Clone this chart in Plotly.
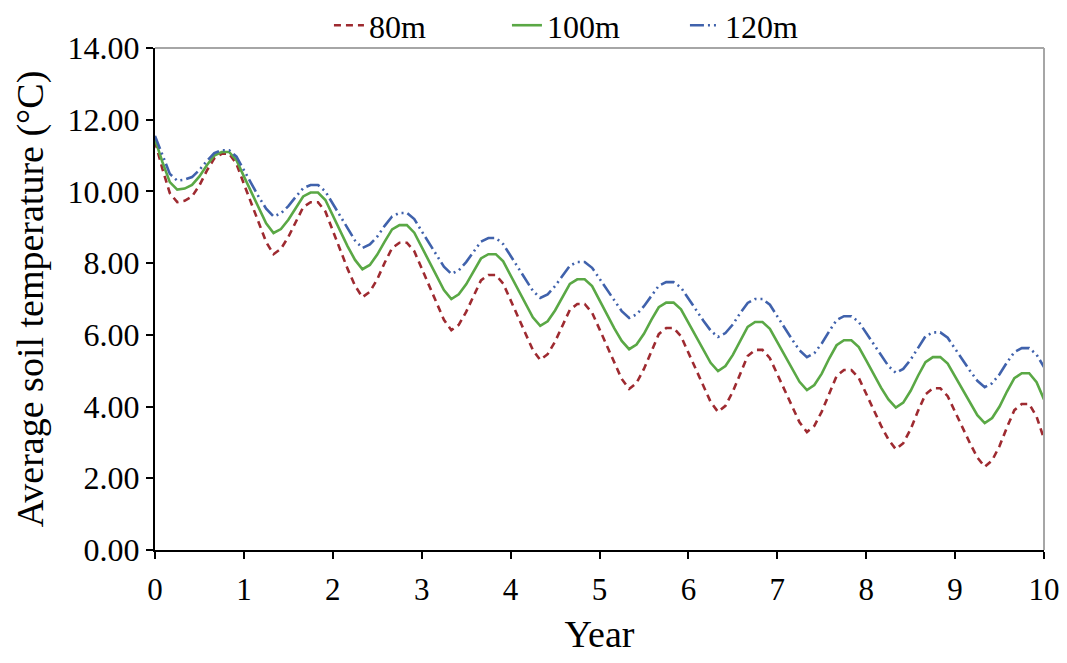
import plotly.graph_objects as go

# Time axis: monthly samples over 10 years
year = [k / 12 for k in range(121)]

temp_80m = [
    11.40, 10.63, 9.95, 9.70, 9.74, 9.86, 10.17, 10.58, 10.92, 11.05, 11.05, 10.77,
    10.21, 9.65, 9.09, 8.59, 8.25, 8.40, 8.73, 9.16, 9.56, 9.70, 9.70, 9.44,
    8.90, 8.37, 7.84, 7.37, 7.05, 7.20, 7.55, 8.01, 8.42, 8.57, 8.57, 8.33,
    7.84, 7.35, 6.86, 6.42, 6.13, 6.28, 6.64, 7.10, 7.52, 7.67, 7.67, 7.43,
    6.96, 6.48, 6.01, 5.58, 5.30, 5.46, 5.81, 6.28, 6.70, 6.86, 6.86, 6.62,
    6.15, 5.67, 5.20, 4.77, 4.49, 4.66, 5.05, 5.56, 6.02, 6.19, 6.19, 5.96,
    5.49, 5.02, 4.55, 4.13, 3.85, 4.02, 4.42, 4.94, 5.41, 5.58, 5.58, 5.35,
    4.89, 4.43, 3.98, 3.56, 3.29, 3.46, 3.86, 4.38, 4.85, 5.02, 5.02, 4.80,
    4.36, 3.91, 3.47, 3.08, 2.81, 2.98, 3.37, 3.88, 4.34, 4.51, 4.51, 4.29,
    3.85, 3.41, 2.98, 2.58, 2.32, 2.50, 2.90, 3.42, 3.90, 4.07, 4.07, 3.72,
    3.10,
]

temp_100m = [
    11.45, 10.82, 10.26, 10.05, 10.08, 10.18, 10.42, 10.73, 11.00, 11.10, 11.10, 10.87,
    10.42, 9.97, 9.52, 9.11, 8.84, 8.95, 9.21, 9.55, 9.86, 9.97, 9.97, 9.76,
    9.33, 8.90, 8.47, 8.09, 7.83, 7.95, 8.24, 8.60, 8.94, 9.06, 9.06, 8.85,
    8.44, 8.03, 7.62, 7.25, 7.00, 7.13, 7.41, 7.79, 8.13, 8.25, 8.25, 8.05,
    7.65, 7.25, 6.85, 6.49, 6.25, 6.38, 6.68, 7.07, 7.42, 7.55, 7.55, 7.36,
    6.96, 6.57, 6.18, 5.83, 5.60, 5.73, 6.03, 6.42, 6.77, 6.90, 6.90, 6.71,
    6.33, 5.94, 5.56, 5.22, 4.99, 5.13, 5.44, 5.85, 6.22, 6.36, 6.36, 6.17,
    5.79, 5.41, 5.03, 4.69, 4.46, 4.60, 4.92, 5.34, 5.71, 5.85, 5.85, 5.66,
    5.29, 4.91, 4.53, 4.20, 3.97, 4.11, 4.44, 4.86, 5.24, 5.38, 5.38, 5.20,
    4.83, 4.46, 4.09, 3.76, 3.54, 3.68, 4.00, 4.42, 4.79, 4.93, 4.93, 4.68,
    4.20,
]

temp_120m = [
    11.55, 10.99, 10.49, 10.30, 10.33, 10.40, 10.60, 10.85, 11.07, 11.15, 11.15, 10.97,
    10.59, 10.22, 9.85, 9.52, 9.30, 9.39, 9.59, 9.85, 10.09, 10.18, 10.18, 10.00,
    9.65, 9.30, 8.95, 8.63, 8.42, 8.52, 8.74, 9.04, 9.30, 9.40, 9.40, 9.23,
    8.89, 8.55, 8.21, 7.90, 7.70, 7.80, 8.03, 8.33, 8.60, 8.70, 8.70, 8.53,
    8.20, 7.86, 7.53, 7.23, 7.03, 7.13, 7.36, 7.66, 7.93, 8.03, 8.03, 7.87,
    7.56, 7.25, 6.94, 6.66, 6.47, 6.57, 6.80, 7.10, 7.37, 7.47, 7.47, 7.32,
    7.01, 6.70, 6.40, 6.12, 5.94, 6.05, 6.29, 6.61, 6.89, 7.00, 7.00, 6.84,
    6.51, 6.19, 5.87, 5.57, 5.38, 5.49, 5.76, 6.10, 6.41, 6.52, 6.52, 6.36,
    6.05, 5.73, 5.41, 5.13, 4.94, 5.05, 5.31, 5.65, 5.96, 6.07, 6.07, 5.92,
    5.61, 5.30, 5.00, 4.72, 4.54, 4.65, 4.90, 5.23, 5.52, 5.63, 5.63, 5.45,
    5.10,
]

series_names = ["80m", "100m", "120m"]
y_ticks = [0, 2, 4, 6, 8, 10, 12, 14]
x_ticks = list(range(11))

FONT = "Liberation Serif, Times New Roman, serif"

fig = go.Figure()
fig.add_trace(go.Scatter(
    x=year, y=temp_80m, mode="lines", name=series_names[0],
    line=dict(color="#9E2A30", width=2.6, dash="7px,5px"),
))
fig.add_trace(go.Scatter(
    x=year, y=temp_100m, mode="lines", name=series_names[1],
    line=dict(color="#5AA845", width=2.6),
))
fig.add_trace(go.Scatter(
    x=year, y=temp_120m, mode="lines", name=series_names[2],
    line=dict(color="#4062AC", width=2.6, dash="14px,4px,2px,4px,2px,4px"),
))

# The page body adds an 8px margin, so the figure is sized to fit the window
# without scrollbars.
fig.update_layout(
    width=1051, height=647,
    margin=dict(l=147, r=15, t=40, b=105, autoexpand=False),
    paper_bgcolor="white", plot_bgcolor="white",
    font=dict(family=FONT, size=32, color="black"),
    showlegend=True,
    legend=dict(
        orientation="h", x=0.496, xanchor="center", y=1.045, yanchor="middle",
        font=dict(family=FONT, size=32, color="black"),
        entrywidth=133, entrywidthmode="pixels",
        bgcolor="rgba(0,0,0,0)",
    ),
    shapes=[
        dict(type="line", xref="paper", yref="paper", x0=0, x1=1, y0=1, y1=1,
             line=dict(color="#A6A6A6", width=2)),
        dict(type="line", xref="paper", yref="paper", x0=1, x1=1, y0=0, y1=1,
             line=dict(color="#A6A6A6", width=2)),
    ],
)

fig.update_xaxes(
    range=[0, 10], tickmode="array", tickvals=x_ticks,
    ticks="outside", ticklen=7, tickwidth=2, tickcolor="black",
    showline=True, linecolor="black", linewidth=2,
    showgrid=False, zeroline=False,
    tickfont=dict(family=FONT, size=31),
    ticklabelstandoff=4, ticklabeloverflow="allow",
    title=dict(text="Year", font=dict(family=FONT, size=38), standoff=21),
)
fig.update_yaxes(
    range=[0, 14], tickmode="array", tickvals=y_ticks, tickformat=".2f",
    ticks="outside", ticklen=7, tickwidth=2, tickcolor="black",
    showline=True, linecolor="black", linewidth=2,
    showgrid=False, zeroline=False,
    tickfont=dict(family=FONT, size=32),
    ticklabeloverflow="allow",
    title=dict(text="Average soil temperature (°C)", font=dict(family=FONT, size=38), standoff=12),
)

fig.write_html("out.html")
